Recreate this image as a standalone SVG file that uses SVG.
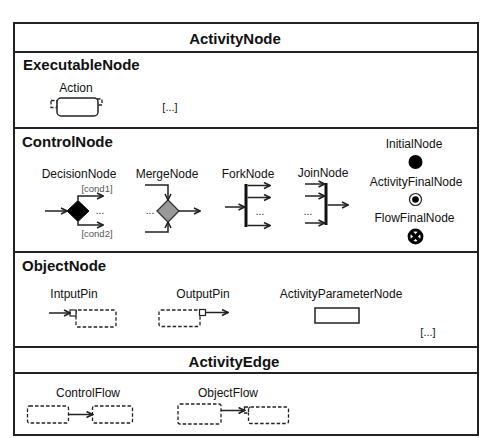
<svg xmlns="http://www.w3.org/2000/svg" width="481" height="438" viewBox="0 0 481 438">
<style>
text{font-family:"Liberation Sans",Arial,sans-serif;fill:#111}
.t{font-size:15px;font-weight:bold}
.l{font-size:12px;text-anchor:middle}
.c{font-size:9.5px;fill:#555;text-anchor:middle}
.frame{fill:#fff;stroke:#222;stroke-width:2}
.sep{stroke:#222;stroke-width:2}
.ln{fill:none;stroke:#222;stroke-width:1.5}
.ar{fill:none;stroke:#222;stroke-width:1.5;marker-end:url(#ah)}
.dash{fill:#fff;stroke:#222;stroke-width:1.3;stroke-dasharray:3.5 2}
</style>
<defs>
<marker id="ah" markerUnits="userSpaceOnUse" viewBox="0 0 8 8" refX="7" refY="4" markerWidth="8" markerHeight="8" orient="auto">
<path d="M1,1 L7,4 L1,7" fill="none" stroke="#222" stroke-width="1.6"/>
</marker>
</defs>
<rect width="481" height="438" fill="#fff"/>
<g id="frame">
<rect class="frame" x="14" y="23" width="464" height="412"/>
<line class="sep" x1="14" y1="52" x2="478" y2="52"/>
<line class="sep" x1="14" y1="128" x2="478" y2="128"/>
<line class="sep" x1="14" y1="252" x2="478" y2="252"/>
<line class="sep" x1="14" y1="347" x2="478" y2="347"/>
<line class="sep" x1="14" y1="373" x2="478" y2="373"/>
<text class="t" x="235" y="44" text-anchor="middle">ActivityNode</text>
<text class="t" x="23" y="70">ExecutableNode</text>
<text class="t" x="22" y="147">ControlNode</text>
<text class="t" x="22" y="271">ObjectNode</text>
<text class="t" x="234" y="367" text-anchor="middle">ActivityEdge</text>
</g>
<g id="action">
<text class="l" x="76" y="92">Action</text>
<rect class="dash" x="51" y="100.5" width="6" height="7"/>
<rect class="dash" x="97" y="99" width="5" height="6"/>
<rect x="57" y="98" width="41" height="18" rx="4" fill="#fff" stroke="#222" stroke-width="1.5"/>
<text x="170" y="111" font-size="11" text-anchor="middle">[...]</text>
</g>
<g id="decisionNode">
<text class="l" x="79" y="178">DecisionNode</text>
<polygon points="78,200.5 89,211 78,221.5 67,211" fill="#000" stroke="#111" stroke-width="1"/>
<text class="c" x="97" y="192">[cond1]</text>
<text class="c" x="97" y="237">[cond2]</text>
<text x="100" y="214" font-size="10" text-anchor="middle">...</text>
</g>
<g id="mergeNode">
<text class="l" x="167" y="178">MergeNode</text>
<polygon points="168,200 179,211 168,222 157,211" fill="#999" stroke="#333" stroke-width="1.3"/>
<text x="150" y="214" font-size="10" text-anchor="middle">...</text>
</g>
<g id="forkNode">
<text class="l" x="248" y="178">ForkNode</text>
<rect x="244.5" y="184" width="3" height="43" fill="#111"/>
<text x="260" y="215" font-size="10" text-anchor="middle">...</text>
</g>
<g id="joinNode">
<text class="l" x="323" y="177">JoinNode</text>
<rect x="324.5" y="183" width="3" height="42" fill="#111"/>
<text x="308" y="215" font-size="10" text-anchor="middle">...</text>
</g>
<g id="initialNode">
<text class="l" x="414" y="148">InitialNode</text>
<circle cx="415.5" cy="162" r="7" fill="#000"/>
</g>
<g id="activityFinalNode">
<text class="l" x="416" y="186">ActivityFinalNode</text>
<circle cx="415.5" cy="199.5" r="6" fill="#fff" stroke="#222" stroke-width="1.2"/>
<circle cx="415.5" cy="199.5" r="3.3" fill="#000"/>
</g>
<g id="flowFinalNode">
<text class="l" x="414.5" y="222">FlowFinalNode</text>
<circle cx="415.5" cy="236.5" r="6.5" fill="#fff" stroke="#000" stroke-width="2.8"/>
<line x1="410.5" y1="231.5" x2="420.5" y2="241.5" stroke="#000" stroke-width="3.4"/>
<line x1="420.5" y1="231.5" x2="410.5" y2="241.5" stroke="#000" stroke-width="3.4"/>
</g>
<g id="inputPin">
<text class="l" x="74" y="298">IntputPin</text>
<rect class="dash" x="76" y="310" width="40" height="17" rx="2"/>
<rect x="70" y="310" width="6" height="6" fill="#fff" stroke="#222" stroke-width="1.2"/>
</g>
<g id="outputPin">
<text class="l" x="203" y="298">OutputPin</text>
<rect class="dash" x="159" y="310" width="41" height="16.5" rx="2"/>
<rect x="199.5" y="309.5" width="6" height="6" fill="#fff" stroke="#222" stroke-width="1.2"/>
</g>
<g id="activityParameterNode">
<text class="l" x="341" y="298">ActivityParameterNode</text>
<rect x="315" y="308" width="44" height="15" fill="#fff" stroke="#222" stroke-width="1.5"/>
<text x="428" y="336" font-size="11" text-anchor="middle">[...]</text>
</g>
<g id="controlFlow">
<text class="l" x="88" y="397">ControlFlow</text>
<rect class="dash" x="27.5" y="406" width="41" height="17" rx="2"/>
<rect class="dash" x="92.5" y="406" width="40" height="17" rx="2"/>
</g>
<g id="objectFlow">
<text class="l" x="228" y="397">ObjectFlow</text>
<rect class="dash" x="178" y="404" width="43" height="20" rx="2"/>
<rect class="dash" x="248.5" y="407" width="40" height="16.5" rx="2"/>
<rect class="dash" x="244.5" y="407" width="4" height="6"/>
</g>
<g id="connectors">
<line class="ar" x1="45" y1="211" x2="67" y2="211"/>
<polyline class="ar" points="78,200.5 78,196 103,196"/>
<polyline class="ar" points="78,221.5 78,225 103,225"/>
<polyline class="ar" points="145,185 168,185 168,200"/>
<polyline class="ar" points="145,232 168,232 168,222"/>
<line class="ar" x1="179" y1="211" x2="200" y2="211"/>
<line class="ar" x1="225" y1="207" x2="244.5" y2="207"/>
<line class="ar" x1="247.5" y1="185.5" x2="270" y2="185.5"/>
<line class="ar" x1="247.5" y1="197.5" x2="270" y2="197.5"/>
<line class="ar" x1="247.5" y1="225.5" x2="270" y2="225.5"/>
<line class="ar" x1="305" y1="184" x2="324.5" y2="184"/>
<line class="ar" x1="305" y1="196" x2="324.5" y2="196"/>
<line class="ar" x1="305" y1="223" x2="324.5" y2="223"/>
<line class="ar" x1="327.5" y1="205" x2="348" y2="205"/>
<line class="ar" x1="49" y1="313" x2="70" y2="313"/>
<line class="ar" x1="205.5" y1="312.5" x2="228" y2="312.5"/>
<line class="ar" x1="68.5" y1="414.5" x2="92.5" y2="414.5"/>
<line class="ar" x1="221" y1="410.5" x2="244.5" y2="410.5"/>
</g>
</svg>
